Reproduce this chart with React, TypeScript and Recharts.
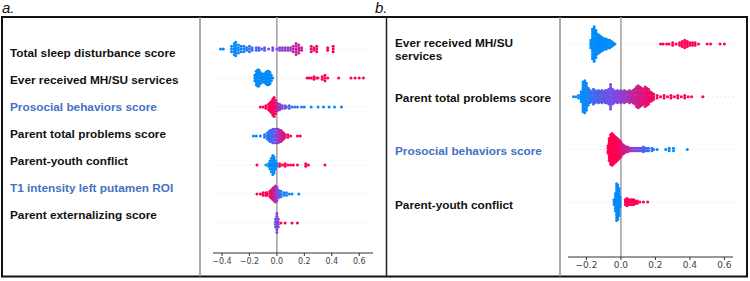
import { ScatterChart, Scatter, XAxis, YAxis, ReferenceLine } from "recharts"

// each bin: [shap value, number of dots stacked at that value, feature level 0 (low) .. 1 (high)]
type Bin = [number, number, number]

const labelsA = [
  "Total sleep disturbance score",
  "Ever received MH/SU services",
  "Prosocial behaviors score",
  "Parent total problems score",
  "Parent-youth conflict",
  "T1 intensity left putamen ROI",
  "Parent externalizing score",
]
const blueLabelsA = [false, false, true, false, false, true, false]

const labelsB = [
  ["Ever received MH/SU", "services"],
  ["Parent total problems score"],
  ["Prosocial behaviors score"],
  ["Parent-youth conflict"],
]
const blueLabelsB = [false, false, true, false]

const ticksA = [-0.4, -0.2, 0, 0.2, 0.4, 0.6]
const ticksB = [-0.2, 0, 0.2, 0.4, 0.6]

const sleepA: Bin[] = [
  [-0.41, 1, 0], [-0.39, 1, 0], [-0.33, 3, 0], [-0.31, 5, 0], [-0.3, 6, 0.05], [-0.28, 4, 0],
  [-0.26, 3, 0.1], [-0.24, 3, 0.1], [-0.22, 2, 0.15], [-0.2, 3, 0.2], [-0.18, 2, 0.2], [-0.15, 2, 0.25],
  [-0.13, 2, 0.3], [-0.11, 1, 0.3], [-0.09, 2, 0.35], [-0.06, 1, 0.4], [-0.03, 2, 0.45], [0.0, 1, 0.5],
  [0.02, 2, 0.5], [0.04, 2, 0.55], [0.06, 2, 0.55], [0.08, 2, 0.6], [0.1, 2, 0.6], [0.12, 3, 0.7],
  [0.14, 5, 0.75], [0.16, 4, 0.8], [0.18, 2, 0.8], [0.25, 3, 0.9], [0.27, 2, 0.9], [0.29, 3, 0.95],
  [0.37, 2, 1], [0.41, 3, 1],
]
const servicesA: Bin[] = [
  [-0.16, 3, 0], [-0.15, 6, 0], [-0.14, 7, 0], [-0.13, 7, 0], [-0.12, 5, 0], [-0.11, 4, 0], [-0.1, 4, 0],
  [-0.09, 4, 0], [-0.08, 5, 0], [-0.07, 6, 0], [-0.06, 6, 0], [-0.05, 5, 0], [-0.04, 3, 0], [-0.03, 1, 0],
  [0.22, 1, 1], [0.235, 1, 1], [0.25, 1, 1], [0.27, 2, 1], [0.29, 1, 1], [0.3, 1, 1], [0.33, 2, 1],
  [0.35, 3, 1], [0.37, 1, 1], [0.45, 1, 1], [0.54, 1, 1], [0.57, 1, 1], [0.6, 1, 1], [0.63, 1, 1],
]
const prosocialA: Bin[] = [
  [-0.12, 1, 1], [-0.1, 1, 1], [-0.08, 2, 1], [-0.06, 3, 1], [-0.05, 4, 1], [-0.04, 5, 1], [-0.03, 7, 1],
  [-0.02, 8, 0.95], [-0.01, 6, 0.9], [0.0, 4, 0.8], [0.01, 3, 0.7], [0.02, 3, 0.6], [0.03, 2, 0.55],
  [0.04, 2, 0.5], [0.06, 2, 0.45], [0.07, 1, 0.4], [0.09, 2, 0.35], [0.11, 1, 0.2], [0.13, 1, 0.15],
  [0.15, 1, 0.1], [0.18, 1, 0.1], [0.2, 1, 0.05], [0.25, 1, 0], [0.3, 1, 0], [0.34, 1, 0], [0.38, 1, 0],
  [0.42, 1, 0], [0.47, 1, 0],
]
const problemsA: Bin[] = [
  [-0.17, 1, 0], [-0.15, 1, 0], [-0.12, 1, 0.1], [-0.09, 2, 0.1], [-0.07, 3, 0.1], [-0.06, 4, 0.15],
  [-0.05, 5, 0.2], [-0.04, 5, 0.25], [-0.03, 6, 0.3], [-0.02, 6, 0.35], [-0.01, 6, 0.45], [0.0, 6, 0.5],
  [0.01, 6, 0.6], [0.02, 5, 0.7], [0.03, 5, 0.75], [0.04, 4, 0.8], [0.05, 3, 0.85], [0.06, 2, 0.9],
  [0.08, 2, 0.9], [0.1, 1, 0.95], [0.15, 1, 1], [0.17, 1, 1],
]
const conflictA: Bin[] = [
  [-0.145, 1, 1], [-0.08, 1, 0], [-0.06, 2, 0], [-0.05, 4, 0], [-0.04, 6, 0], [-0.03, 8, 0], [-0.02, 7, 0],
  [-0.01, 4, 0], [0.0, 2, 0], [0.02, 2, 1], [0.04, 1, 1], [0.06, 2, 1], [0.08, 1, 1], [0.1, 1, 1],
  [0.12, 1, 1], [0.15, 1, 1], [0.21, 2, 1], [0.23, 1, 1], [0.35, 1, 1],
]
const putamenA: Bin[] = [
  [-0.145, 1, 1], [-0.12, 1, 1], [-0.1, 2, 1], [-0.08, 2, 1], [-0.07, 2, 1], [-0.05, 3, 0.95],
  [-0.04, 4, 0.9], [-0.03, 5, 0.85], [-0.02, 6, 0.8], [-0.01, 7, 0.7], [0.0, 6, 0.55], [0.01, 4, 0.4],
  [0.02, 3, 0.3], [0.03, 3, 0.2], [0.05, 2, 0.1], [0.07, 2, 0.05], [0.09, 1, 0], [0.11, 1, 0], [0.16, 1, 0],
]
const externalizingA: Bin[] = [
  [-0.01, 4, 0.3], [0.0, 8, 0.5], [0.01, 4, 0.6], [0.03, 1, 1], [0.06, 1, 1], [0.11, 1, 1], [0.15, 1, 1],
]

const servicesB: Bin[] = [
  [-0.175, 4, 0], [-0.165, 13, 0], [-0.155, 15, 0], [-0.145, 12, 0], [-0.135, 9, 0], [-0.125, 8, 0],
  [-0.115, 7, 0], [-0.105, 6, 0], [-0.095, 5, 0], [-0.085, 5, 0], [-0.075, 4, 0], [-0.065, 4, 0],
  [-0.055, 3, 0], [-0.045, 2, 0], [-0.035, 1, 0],
  [0.23, 1, 1], [0.245, 1, 1], [0.265, 1, 1], [0.28, 1, 1], [0.3, 2, 1], [0.32, 1, 1], [0.34, 2, 1],
  [0.355, 3, 1], [0.37, 4, 1], [0.385, 3, 1], [0.4, 2, 1], [0.415, 2, 1], [0.43, 2, 1], [0.45, 1, 1],
  [0.5, 1, 1], [0.52, 1, 1], [0.575, 1, 1], [0.6, 1, 1],
]
const problemsB: Bin[] = [
  [-0.275, 1, 0], [-0.26, 1, 0], [-0.245, 2, 0], [-0.23, 5, 0], [-0.22, 13, 0], [-0.21, 14, 0],
  [-0.2, 12, 0.05], [-0.19, 8, 0.1], [-0.18, 6, 0.15], [-0.17, 5, 0.2], [-0.16, 7, 0.25], [-0.15, 6, 0.25],
  [-0.14, 5, 0.3], [-0.13, 6, 0.3], [-0.12, 5, 0.35], [-0.11, 6, 0.35], [-0.1, 5, 0.35], [-0.09, 6, 0.4],
  [-0.08, 6, 0.4], [-0.07, 7, 0.45], [-0.06, 11, 0.45], [-0.05, 7, 0.45], [-0.04, 6, 0.5], [-0.03, 5, 0.5],
  [-0.02, 6, 0.5], [-0.01, 5, 0.55], [0.0, 6, 0.55], [0.01, 5, 0.6], [0.02, 6, 0.6], [0.03, 5, 0.6],
  [0.04, 5, 0.65], [0.05, 6, 0.7], [0.06, 5, 0.7], [0.07, 6, 0.75], [0.08, 7, 0.75], [0.09, 9, 0.8],
  [0.1, 10, 0.8], [0.11, 9, 0.85], [0.12, 8, 0.85], [0.13, 7, 0.85], [0.14, 9, 0.9], [0.15, 8, 0.9],
  [0.16, 7, 0.9], [0.17, 5, 0.95], [0.18, 4, 0.95], [0.19, 3, 0.95], [0.21, 2, 1], [0.23, 1, 1],
  [0.25, 2, 1], [0.27, 1, 1], [0.29, 2, 1], [0.31, 1, 1], [0.33, 2, 1], [0.35, 1, 1], [0.37, 2, 1],
  [0.39, 1, 1], [0.41, 1, 1], [0.475, 1, 1],
]
const prosocialB: Bin[] = [
  [-0.075, 4, 1], [-0.068, 10, 1], [-0.06, 13, 1], [-0.052, 14, 1], [-0.045, 13, 1], [-0.038, 12, 1],
  [-0.03, 11, 1], [-0.022, 10, 1], [-0.015, 9, 0.95], [-0.008, 8, 0.95], [0.0, 7, 0.9], [0.01, 5, 0.85],
  [0.02, 4, 0.8], [0.03, 3, 0.8], [0.04, 3, 0.75], [0.05, 2, 0.7], [0.06, 2, 0.65], [0.07, 2, 0.6],
  [0.08, 2, 0.55], [0.09, 2, 0.5], [0.1, 2, 0.45], [0.11, 2, 0.4], [0.12, 2, 0.35], [0.13, 3, 0.3],
  [0.14, 2, 0.3], [0.15, 2, 0.25], [0.16, 2, 0.2], [0.18, 2, 0.15], [0.19, 1, 0.1], [0.21, 1, 0.05],
  [0.26, 1, 0], [0.28, 2, 0], [0.305, 2, 0], [0.385, 1, 0],
]
const conflictB: Bin[] = [
  [-0.04, 3, 0], [-0.032, 8, 0], [-0.025, 16, 0], [-0.018, 15, 0], [-0.011, 12, 0], [-0.005, 5, 0],
  [0.025, 3, 1], [0.035, 4, 1], [0.045, 3, 1], [0.055, 3, 1], [0.065, 3, 1], [0.075, 3, 1],
  [0.085, 2, 1], [0.095, 2, 1], [0.11, 1, 1], [0.13, 1, 1], [0.155, 1, 1],
]

const rowsA = [sleepA, servicesA, prosocialA, problemsA, conflictA, putamenA, externalizingA]
const rowsB = [servicesB, problemsB, prosocialB, conflictB]

// shap-like blue -> purple -> red
const stops = [
  [0, [0, 139, 251]],
  [0.5, [128, 72, 226]],
  [1, [255, 0, 82]],
] as [number, number[]][]

function featureColor(t: number) {
  for (let i = 1; i < stops.length; i++) {
    const [t1, c1] = stops[i]
    const [t0, c0] = stops[i - 1]
    if (t <= t1) {
      const f = (t - t0) / (t1 - t0)
      const c = c0.map((v, k) => Math.round(v + (c1[k] - v) * f))
      return `rgb(${c[0]},${c[1]},${c[2]})`
    }
  }
  return "rgb(255,0,82)"
}

// stack dots of a bin vertically around the row centre
function swarm(rows: Bin[][], rowPx: number, gap: number) {
  const pts: { x: number; y: number; c: number }[] = []
  rows.forEach((bins, r) => {
    bins.forEach(([v, n, c]) => {
      for (let j = 0; j < n; j++) {
        pts.push({ x: v, y: r + ((j - (n - 1) / 2) * gap) / rowPx, c })
      }
    })
  })
  return pts
}

const Dot = (props: any) => {
  const c = props.payload?.c ?? props.c ?? 0
  return <circle cx={props.cx} cy={props.cy} r={1.5} fill={featureColor(c)} />
}

const fmt = (v: number) => (v === 0 ? "0.0" : v.toFixed(1).replace("-", "\u2212"))

function Beeswarm({ rows, rowPx, gap, yDomain, xDomain, ticks, width, height, axisH, fontSize }: any) {
  const pts = swarm(rows, rowPx, gap)
  return (
    <ScatterChart width={width} height={height} margin={{ top: 0, right: 0, bottom: 0, left: 0 }}>
      <XAxis
        type="number"
        dataKey="x"
        domain={xDomain}
        ticks={ticks}
        allowDataOverflow
        height={axisH}
        tickFormatter={fmt}
        axisLine={{ stroke: "#333" }}
        tickLine={{ stroke: "#333" }}
        tickSize={3}
        tick={{ fill: "#444", fontSize, fontFamily: "DejaVu Sans" }}
      />
      <YAxis type="number" dataKey="y" domain={yDomain} reversed hide allowDataOverflow />
      {rows.map((_: any, i: number) => (
        <ReferenceLine key={i} y={i} stroke="#d8d8d8" strokeWidth={0.8} strokeDasharray="1 3" />
      ))}
      <ReferenceLine x={0} stroke="#a0a0a0" strokeWidth={1.5} />
      <Scatter data={pts} shape={Dot} isAnimationActive={false} />
    </ScatterChart>
  )
}

export default function App() {
  const font = "'Liberation Sans', Arial, sans-serif"
  return (
    <div style={{ position: "absolute", left: 0, top: 0, width: 750, height: 281, background: "#fff" }}>
      <svg width={750} height={281} style={{ position: "absolute", left: 0, top: 0 }}>
        <rect x={2} y={17} width={745} height={259.5} fill="none" stroke="#111" strokeWidth={2} />
        <line x1={386.5} y1={17} x2={386.5} y2={276.5} stroke="#222" strokeWidth={1.5} />
        <line x1={200} y1={17} x2={200} y2={276.5} stroke="#8c8c8c" strokeWidth={1.5} />
        <line x1={560} y1={17} x2={560} y2={276.5} stroke="#8c8c8c" strokeWidth={1.5} />
        <text x={2} y={13} fontFamily={font} fontStyle="italic" fontSize={15} fill="#111">a.</text>
        <text x={375} y={13} fontFamily={font} fontStyle="italic" fontSize={15} fill="#111">b.</text>
        {labelsA.map((t, i) => (
          <text key={t} x={10} y={56.7 + 27.05 * i} fontFamily={font} fontWeight="bold" fontSize={11.8}
            fill={blueLabelsA[i] ? "#4472c4" : "#111"}>{t}</text>
        ))}
        {labelsB.map((lines, i) => {
          const base = [46.7, 101.7, 155, 209][i]
          return lines.map((t, k) => (
            <text key={t} x={395} y={base + k * 13.3} fontFamily={font} fontWeight="bold" fontSize={11.8}
              fill={blueLabelsB[i] ? "#4472c4" : "#111"}>{t}</text>
          ))
        })}
      </svg>
      <div style={{ position: "absolute", left: 213, top: 17 }}>
        <Beeswarm rows={rowsA} rowPx={29} gap={2.7} yDomain={[-32 / 29, -32 / 29 + 236 / 29]} xDomain={[-0.465, 0.7]}
          ticks={ticksA} width={160} height={260} axisH={24} fontSize={8} />
      </div>
      <div style={{ position: "absolute", left: 568, top: 17 }}>
        <Beeswarm rows={rowsB} rowPx={52.7} gap={2.45} yDomain={[-27 / 52.7, -27 / 52.7 + 240 / 52.7]} xDomain={[-0.307, 0.65]}
          ticks={ticksB} width={165} height={260} axisH={20} fontSize={9} />
      </div>
    </div>
  )
}
